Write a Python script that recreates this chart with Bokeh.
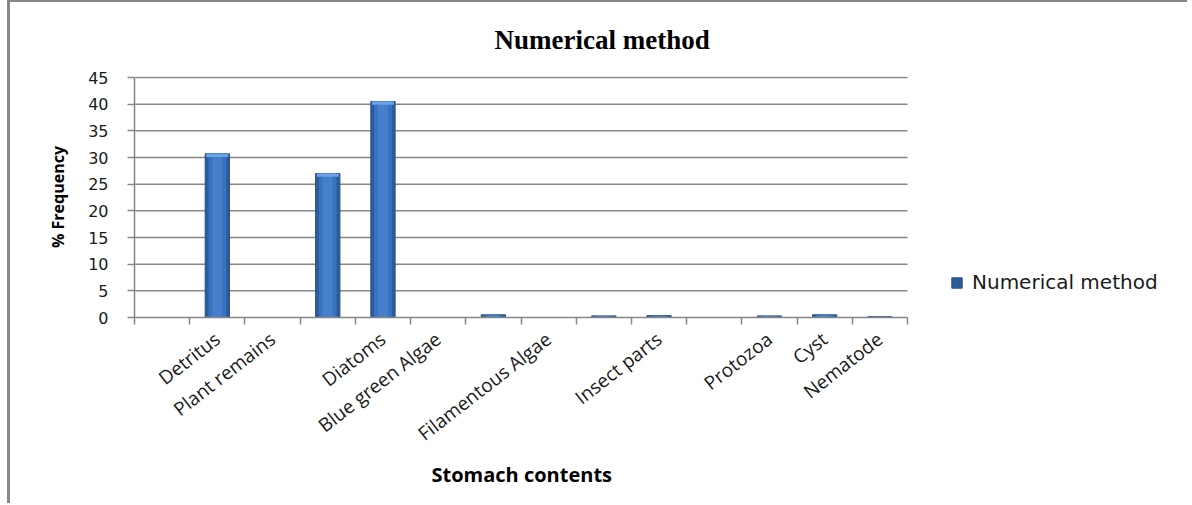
import math
from bokeh.plotting import figure
from bokeh.models import (Range1d, FixedTicker, Legend, LegendItem, ColumnDataSource,
                          Title)
from bokeh.embed import file_html
from bokeh.resources import INLINE

# ---------------- data ----------------
slot_labels = ["", "Detritus", "Plant remains", "", "Diatoms", "Blue green Algae", "",
               "Filamentous Algae", "", "Insect parts", "", "Protozoa", "Cyst", "Nematode"]
slot_values = [0, 30.7, 0, 27.0, 40.5, 0, 0.5, 0, 0.3, 0.35, 0, 0.3, 0.5, 0.15]
y_ticks = [0, 5, 10, 15, 20, 25, 30, 35, 40, 45]
title_text = "Numerical method"
series_name = "Numerical method"
x_title = "Stomach contents"
y_title = "% Frequency"

GRAY = "#868686"
TXT = "#1a1a1a"

# ---------------- layout geometry (pixels) ----------------
W, H = 1180, 503
LEFT, TOP, BOTTOM = 124, 74, 188         # borders around the frame
PLOT_W, PLOT_H = 773, 240                # size of the category/value area
n = len(slot_labels)
y_max = y_ticks[-1]
frame_w = W - LEFT
frame_h = H - TOP - BOTTOM
x_end = -0.5 + n * frame_w / PLOT_W
y_end = y_max * frame_h / PLOT_H

p = figure(width=W, height=H, output_backend="svg", toolbar_location=None,
           x_range=Range1d(-0.5, x_end), y_range=Range1d(0, y_end),
           min_border_left=LEFT, min_border_right=0, min_border_top=TOP,
           min_border_bottom=BOTTOM)
p.styles = {"border-left": "3px solid #878787", "border-top": "2px solid #878787",
            "margin-left": "7px"}
p.outline_line_color = None
p.background_fill_color = "white"
p.border_fill_color = "white"
p.xgrid.grid_line_color = None
p.ygrid.grid_line_color = None

# ---------------- title ----------------
p.title.text = title_text
p.title.align = "left"
p.title.offset = 360
p.title.vertical_align = "top"
p.title.standoff = 40
p.title.text_font = "Liberation Serif"
p.title.text_font_style = "bold"
p.title.text_font_size = "27px"
p.title.text_color = "#000000"

# ---------------- gridlines (bounded to the plot area) ----------------
grid_y = [t for t in y_ticks if t > 0]
p.segment(x0=[-0.5] * len(grid_y), x1=[n - 0.5] * len(grid_y), y0=grid_y, y1=grid_y,
          line_color=GRAY, line_width=1.5)

# ---------------- bars ----------------
xs = [i for i, v in enumerate(slot_values) if v > 0]
tops = [slot_values[i] for i in xs]
src = ColumnDataSource(dict(x=xs, top=tops))
r_main = p.vbar(x="x", top="top", width=0.44, source=src,
                fill_color="#2d5c9c", line_color="#264f88", line_width=1)
p.vbar(x="x", top="top", width=0.32, source=src, fill_color="#3a72bd", line_color=None)
p.vbar(x="x", top="top", width=0.18, source=src, fill_color="#4480cd", line_color=None)
cap_x = [x for x, t in zip(xs, tops) if t > 2]
cap_t = [t for t in tops if t > 2]
cap_src = ColumnDataSource(dict(x=cap_x, top=cap_t, bottom=[t - 0.6 for t in cap_t]))
p.vbar(x="x", top="top", bottom="bottom", width=0.40, source=cap_src,
       fill_color="#6aa3e6", line_color=None)

# ---------------- axes ----------------
label_ticks = [i for i, s in enumerate(slot_labels) if s]
boundaries = [i - 0.5 for i in range(n + 1)]
xa = p.xaxis[0]
xa.bounds = (-0.5, n - 0.5)
xa.ticker = FixedTicker(ticks=label_ticks, minor_ticks=boundaries)
xa.major_label_overrides = {i: slot_labels[i] for i in label_ticks}
xa.major_tick_line_color = None
xa.minor_tick_line_color = GRAY
xa.minor_tick_line_width = 1.5
xa.minor_tick_in = 0
xa.minor_tick_out = 7
xa.axis_line_color = GRAY
xa.axis_line_width = 1.5
xa.major_label_orientation = 0.66
xa.major_label_standoff = 12
xa.major_label_text_font = "Open Sans"
xa.major_label_text_font_size = "19px"
xa.major_label_text_color = TXT

# x-axis title, centred under the category area
p.add_layout(Title(text=x_title, align="left", offset=297, vertical_align="top",
                   standoff=2, text_font="Open Sans", text_font_style="bold",
                   text_font_size="20px", text_color="#000000"), "below")

ya = p.yaxis[0]
ya.bounds = (0, y_max)
ya.ticker = FixedTicker(ticks=y_ticks)
ya.major_tick_line_color = GRAY
ya.major_tick_line_width = 1.5
ya.major_tick_in = 0
ya.major_tick_out = 7
ya.minor_tick_line_color = None
ya.axis_line_color = GRAY
ya.axis_line_width = 1.5
ya.major_label_standoff = 19
ya.major_label_text_font = "DejaVu Sans"
ya.major_label_text_font_size = "16px"
ya.major_label_text_color = TXT
ya.axis_label = y_title
ya.axis_label_text_font = "Open Sans"
ya.axis_label_text_font_style = "bold"
ya.axis_label_text_font_size = "16px"
ya.axis_label_text_color = "#000000"
ya.axis_label_standoff = 16

# ---------------- legend ----------------
legend = Legend(items=[LegendItem(label=series_name, renderers=[r_main])],
                location=(816, 23), padding=0, margin=0, spacing=0,
                glyph_width=13, glyph_height=13, label_standoff=9,
                label_text_font="DejaVu Sans", label_text_font_size="20px",
                label_text_color=TXT, border_line_color=None,
                background_fill_alpha=0)
p.add_layout(legend, "center")

open("out.html", "w").write(file_html(p, INLINE))
